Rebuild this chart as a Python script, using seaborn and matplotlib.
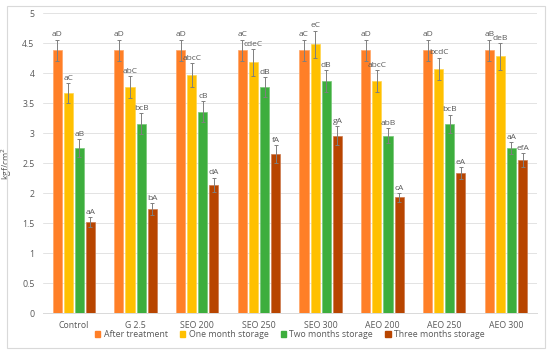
import pandas as pd
import seaborn as sns
import matplotlib.pyplot as plt
from matplotlib.patches import Rectangle

treatments = ['Control', 'G 2.5', 'SEO 200', 'SEO 250', 'SEO 300', 'AEO 200', 'AEO 250', 'AEO 300']
periods = ['After treatment', 'One month storage', 'Two months storage', 'Three months storage']

after_treatment = [4.38, 4.38, 4.38, 4.38, 4.38, 4.38, 4.38, 4.38]
one_month = [3.67, 3.77, 3.97, 4.18, 4.48, 3.87, 4.07, 4.28]
two_months = [2.75, 3.16, 3.36, 3.77, 3.87, 2.96, 3.16, 2.75]
three_months = [1.52, 1.73, 2.14, 2.65, 2.96, 1.93, 2.34, 2.55]

err_after = [0.18, 0.18, 0.18, 0.18, 0.18, 0.18, 0.18, 0.18]
err_one = [0.17, 0.18, 0.20, 0.22, 0.23, 0.18, 0.19, 0.22]
err_two = [0.15, 0.17, 0.18, 0.17, 0.18, 0.13, 0.15, 0.10]
err_three = [0.08, 0.10, 0.12, 0.15, 0.16, 0.07, 0.10, 0.12]

lab_after = ['aD', 'aD', 'aD', 'aC', 'aC', 'aD', 'aD', 'aB']
lab_one = ['aC', 'abC', 'abcC', 'cdeC', 'eC', 'abcC', 'bcdC', 'deB']
lab_two = ['aB', 'bcB', 'cB', 'dB', 'dB', 'abB', 'bcB', 'aA']
lab_three = ['aA', 'bA', 'dA', 'fA', 'gA', 'cA', 'eA', 'efA']

colors = ['#FF7F27', '#FFC000', '#3DAE3D', '#B84500']
edge_colors = ['#FFA566', '#FFD54D', '#77C777', '#CC7A4D']

values = [after_treatment, one_month, two_months, three_months]
errors = [err_after, err_one, err_two, err_three]
labels = [lab_after, lab_one, lab_two, lab_three]

df = pd.DataFrame({
    'treatment': treatments * 4,
    'period': [p for p in periods for _ in treatments],
    'value': sum(values, []),
})

sns.set_style('white')
plt.rcParams['font.family'] = ['Open Sans', 'DejaVu Sans']

fig = plt.figure(figsize=(5.5, 3.55), dpi=100)
ax = fig.add_axes([0.078, 0.118, 0.898, 0.845])

sns.barplot(data=df, x='treatment', y='value', hue='period', order=treatments,
            hue_order=periods, palette=colors, saturation=1, width=0.72, gap=0.18,
            errorbar=None, ax=ax, legend=False, zorder=2)

for cont, ec, errs, labs, vals in zip(ax.containers, edge_colors, errors, labels, values):
    xs = []
    for bar in cont:
        bar.set_edgecolor(ec)
        bar.set_linewidth(0.5)
        xs.append(bar.get_x() + bar.get_width() / 2)
    ax.errorbar(xs, vals, yerr=errs, fmt='none', ecolor='#7f7f7f',
                elinewidth=0.7, capsize=1.5, capthick=0.7, zorder=3)
    for x, v, e, t in zip(xs, vals, errs, labs):
        ax.text(x, v + e + 0.02, t, ha='center', va='bottom',
                fontsize=6, color='#595959')

ax.set_ylim(0, 5)
ax.set_xlim(-0.5, 7.5)
ax.set_yticks([0, 0.5, 1, 1.5, 2, 2.5, 3, 3.5, 4, 4.5, 5])
ax.set_yticklabels(['0', '0.5', '1', '1.5', '2', '2.5', '3', '3.5', '4', '4.5', '5'])
ax.yaxis.grid(True, color='#e3e3e3', linewidth=0.7, zorder=0)
ax.set_axisbelow(True)
ax.tick_params(axis='both', length=0, labelsize=6.3, labelcolor='#595959', pad=6)
ax.set_xlabel('')
ax.set_ylabel('kgf/cm$^2$', fontsize=6.3, color='#595959', labelpad=6)
for s in ['top', 'right', 'left']:
    ax.spines[s].set_visible(False)
ax.spines['bottom'].set_color('#d9d9d9')
ax.spines['bottom'].set_linewidth(0.7)

handles = [Rectangle((0, 0), 1, 1, color=c) for c in colors]
ax.legend(handles, periods, loc='upper center', bbox_to_anchor=(0.5, -0.03),
          ncol=4, frameon=False, fontsize=6.3, labelcolor='#595959',
          handlelength=0.6, handleheight=0.6, handletextpad=0.4, columnspacing=1.4)

fig.patches.append(Rectangle((0.013, 0.02), 0.978, 0.963, transform=fig.transFigure,
                             fill=False, edgecolor='#d9d9d9', linewidth=0.8))

fig.savefig('out.png', dpi=100)
